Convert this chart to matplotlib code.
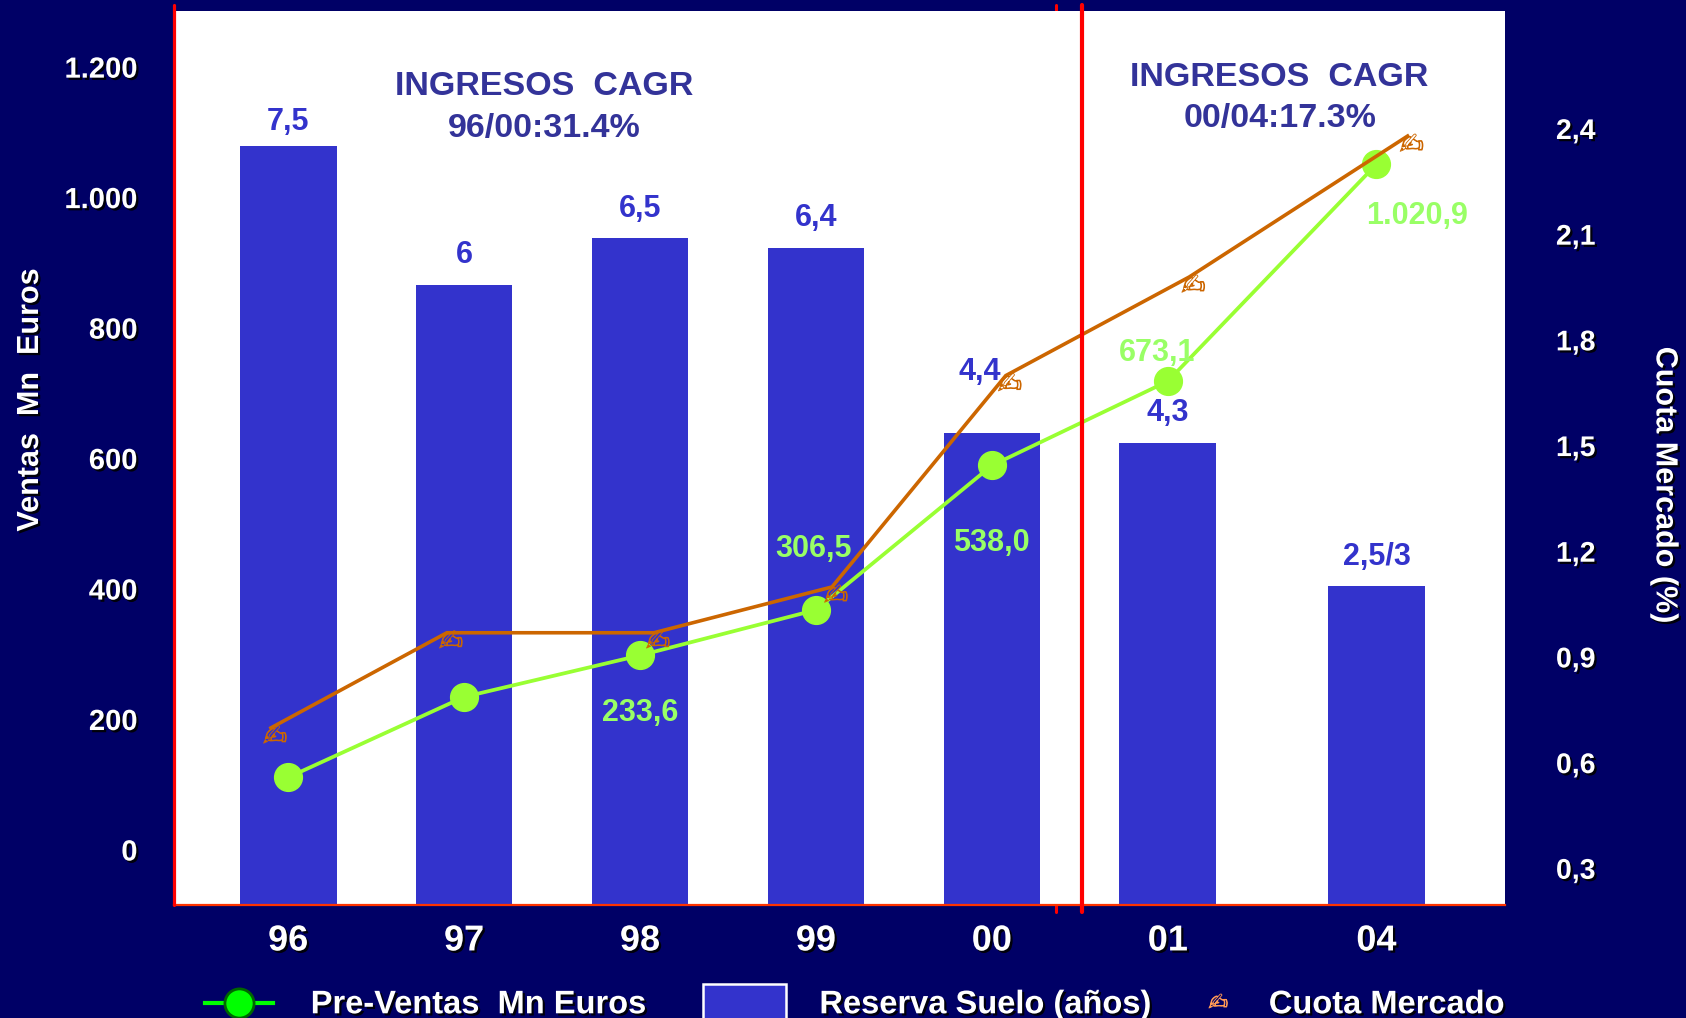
import numpy as np
import matplotlib
matplotlib.use("Agg")
import matplotlib.pyplot as plt
from matplotlib import patheffects as pe
from matplotlib import transforms
from matplotlib.lines import Line2D
from matplotlib.patches import Rectangle

plt.rcParams['font.family'] = ['Liberation Sans', 'DejaVu Sans']
plt.rcParams['font.weight'] = 'bold'
plt.rcParams['axes.labelweight'] = 'bold'

# ---- data -------------------------------------------------------------
years = ['96', '97', '98', '99', '00', '01', '04']

# Reserva de suelo (años) -> barras
reserva_suelo = [7.5, 6.0, 6.5, 6.4, 4.4, 4.3, 2.75]
reserva_labels = ['7,5', '6', '6,5', '6,4', '4,4', '4,3', '2,5/3']

# Pre-ventas (Mn Euros) -> línea verde
preventas = [38.0, 167.0, 233.6, 306.5, 538.0, 673.1, 1020.9]
preventas_labels = [None, None, '233,6', '306,5', '538,0', '673,1', '1.020,9']

# Cuota de mercado (%) -> línea naranja
cuota = [0.70, 0.97, 0.97, 1.10, 1.70, 1.98, 2.38]

left_ticks = [0, 200, 400, 600, 800, 1000, 1200]
left_ticklabels = ['0', '200', '400', '600', '800', '1.000', '1.200']
right_ticks = [0.3, 0.6, 0.9, 1.2, 1.5, 1.8, 2.1, 2.4]
right_ticklabels = ['0,3', '0,6', '0,9', '1,2', '1,5', '1,8', '2,1', '2,4']

cagr_left = ['INGRESOS  CAGR', '96/00:31.4%']
cagr_right = ['INGRESOS  CAGR', '00/04:17.3%']

# ---- style ------------------------------------------------------------
NAVY = '#000066'
BAR = '#3333CC'
GREEN = '#99FF33'
GREEN_TXT = '#99FF66'
ORANGE = '#CC6600'
TITLE = '#333399'
RED = '#FF0000'
HAND = '\u270d'

W, H = 1686, 1018


def fx(px):
    return px / W


def fy(py):
    return 1 - py / H


shadow = [pe.withSimplePatchShadow(offset=(1.6, -1.6), shadow_rgbFace='black', alpha=0.9)]

fig = plt.figure(figsize=(W / 100, H / 100), dpi=100, facecolor=NAVY)
left_px, right_px, top_px, bottom_px = 174.2, 1505.4, 10.75, 905.4
ax = fig.add_axes([fx(left_px), fy(bottom_px), fx(right_px - left_px), (bottom_px - top_px) / H])
ax.set_facecolor('white')

# category positions (wider step before 2004)
xpos = np.arange(len(years), dtype=float)
xpos[-1] += 0.186
ax.set_xlim(-0.648, 6.919)

# left axis: Ventas Mn Euros
ax.set_ylim(-85.7, 1285.7)
ax.set_yticks(left_ticks, labels=left_ticklabels)
ax.set_xticks(xpos, labels=years)
ax.tick_params(axis='y', length=0, pad=26.4, labelsize=21, labelcolor='white')
ax.tick_params(axis='x', length=0, pad=13, labelsize=26, labelcolor='white')
for lab in ax.get_xticklabels() + ax.get_yticklabels():
    lab.set_path_effects(shadow)
for s in ax.spines.values():
    s.set_visible(False)

# bars: reserva de suelo (años), own scale
ax_bar = ax.twinx()
bar_base = -0.687
ax_bar.set_ylim(bar_base, 8.954)
ax_bar.set_axis_off()
ax_bar.bar(xpos, np.array(reserva_suelo) - bar_base, bottom=bar_base,
           width=0.55, color=BAR, zorder=2)
for i, (x, v, lab) in enumerate(zip(xpos, reserva_suelo, reserva_labels)):
    dx, dy = (0, 15.5)
    if i == 0:
        dy = 11.5
    if i == 4:
        dx, dy = -8.5, 38.7
    ax_bar.annotate(lab, (x, v), xytext=(dx, dy), textcoords='offset points',
                    ha='center', va='baseline', fontsize=22, color=BAR,
                    fontweight='bold', zorder=5)

# green line: pre-ventas
ax_green = ax.twinx()
ax_green.set_ylim(-167.2, 1267.0)
ax_green.set_axis_off()
ax_green.plot(xpos, preventas, color=GREEN, lw=2.7, marker='o', ms=20,
              mfc=GREEN, mec=GREEN, zorder=3)
green_offsets = {2: (0, -47.6), 3: (-1.5, 38.3), 4: (0, -61.6),
                 5: (-7.7, 14.3), 6: (29.4, -43.0)}
for i, lab in enumerate(preventas_labels):
    if lab is None:
        continue
    dx, dy = green_offsets[i]
    ax_green.annotate(lab, (xpos[i], preventas[i]), xytext=(dx, dy),
                      textcoords='offset points', ha='center', va='baseline',
                      fontsize=22, color=GREEN_TXT, fontweight='bold', zorder=5)

# orange line: cuota de mercado (right axis)
ax_right = ax.twinx()
ax_right.set_ylim(0.196, 2.7357)
ax_right.set_yticks(right_ticks, labels=right_ticklabels)
ax_right.tick_params(axis='y', length=0, pad=36.4, labelsize=20.5, labelcolor='white')
for lab in ax_right.get_yticklabels():
    lab.set_path_effects(shadow)
for name, s in ax_right.spines.items():
    s.set_visible(name == 'bottom')
ax_right.spines['bottom'].set_color('#FF3300')
ax_right.spines['bottom'].set_linewidth(1.6)
orange_dodge = np.array([-0.098, -0.098, 0.079, 0.091, 0.079, 0.122, 0.177])
xo = xpos + orange_dodge
ax_right.plot(xo, cuota, color=ORANGE, lw=2.6, zorder=4, solid_joinstyle='miter')
hand_fx = [pe.Stroke(linewidth=0.6, foreground=ORANGE)]
for x, v in zip(xo, cuota):
    ax_right.annotate(HAND, (x, v), xytext=(3, -7), textcoords='offset points',
                      ha='center', va='center', fontsize=21, color='none',
                      family=['DejaVu Sans'], path_effects=hand_fx, zorder=5)

# red frame lines
blend = transforms.blended_transform_factory(ax.transData, fig.transFigure)
blend_ax = transforms.blended_transform_factory(ax.transAxes, fig.transFigure)
fig.add_artist(Line2D([4.364, 4.364], [fy(5), fy(911.5)], transform=blend,
                      color=RED, lw=2.2, solid_capstyle='round', zorder=-1))
fig.add_artist(Line2D([4.511, 4.511], [fy(5), fy(911.5)], transform=blend,
                      color=RED, lw=3.0, solid_capstyle='round', zorder=10))
fig.add_artist(Line2D([0, 0], [fy(5), fy(bottom_px)], transform=blend_ax,
                      color=RED, lw=2.3, solid_capstyle='round', zorder=10))

# axis titles
fig.text(fx(30), fy(400), 'Ventas  Mn  Euros', rotation=90, ha='center', va='center',
         fontsize=22, color='white', fontweight='bold', path_effects=shadow)
fig.text(fx(1664.6), fy(485), 'Cuota Mercado (%)', rotation=-90, ha='center', va='center',
         fontsize=22, color='white', fontweight='bold', path_effects=shadow)

# CAGR notes
for (cx, bases, lines) in [(544, (94.6, 136.6), cagr_left), (1279.6, (86.0, 126.9), cagr_right)]:
    for b, t in zip(bases, lines):
        fig.text(fx(cx), fy(b), t, ha='center', va='baseline', fontsize=24.5,
                 color=TITLE, fontweight='bold')

# legend
leg_y = 1003
fig.add_artist(Line2D([fx(204.5), fx(272.8)], [fy(leg_y), fy(leg_y)],
                      transform=fig.transFigure, color='#00FF00', lw=3, zorder=5))
fig.add_artist(Line2D([fx(238.7)], [fy(leg_y)], transform=fig.transFigure,
                      marker='o', ms=21, mfc='#00FF00', mec='#006600', mew=2,
                      linestyle='none', zorder=6))
fig.text(fx(310.7), fy(1013.3), 'Pre-Ventas  Mn Euros', ha='left', va='baseline',
         fontsize=23.5, color='white', fontweight='bold', path_effects=shadow)
fig.add_artist(Rectangle((fx(702.7), fy(1030)), fx(785.7 - 702.7), (1030 - 984) / H,
                         transform=fig.transFigure, facecolor=BAR, edgecolor='white',
                         lw=1.8, zorder=5))
fig.text(fx(819.4), fy(1013.3), 'Reserva Suelo (años)', ha='left', va='baseline',
         fontsize=23.5, color='white', fontweight='bold', path_effects=shadow)
fig.text(fx(1218.3), fy(1003), HAND, ha='center', va='center', fontsize=17,
         color='none', family=['DejaVu Sans'],
         path_effects=[pe.Stroke(linewidth=0.6, foreground='#FF9955')])
fig.text(fx(1268.8), fy(1013.3), 'Cuota Mercado', ha='left', va='baseline',
         fontsize=23.5, color='white', fontweight='bold', path_effects=shadow)

fig.savefig('out.png', dpi=100, facecolor=NAVY)
